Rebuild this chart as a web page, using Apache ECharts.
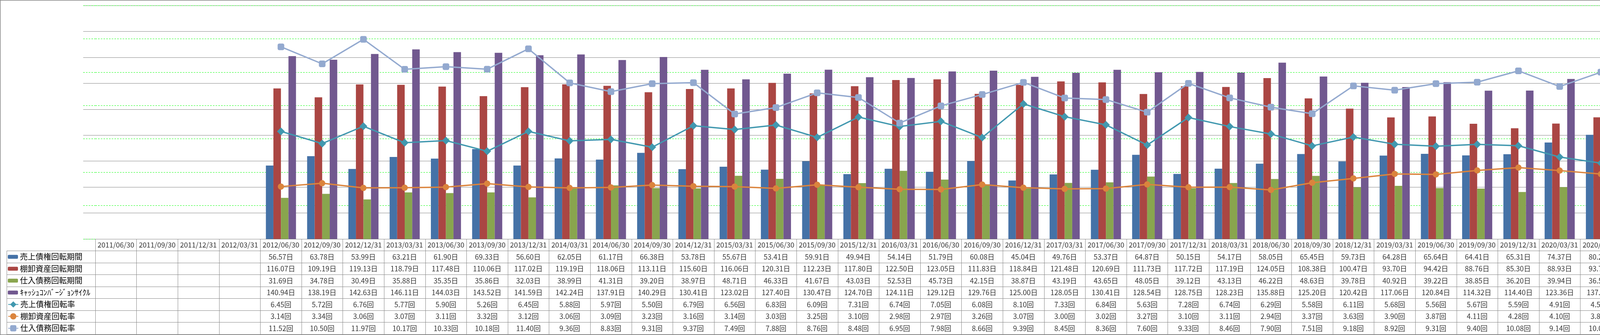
<!DOCTYPE html>
<html><head><meta charset="utf-8">
<script src="https://cdn.jsdelivr.net/npm/echarts@6/dist/echarts.min.js"></script>
<style>html,body{margin:0;padding:0;background:#fff;overflow:hidden}#c{width:4701px;height:858px}</style>
</head><body><div id="c"></div>
<script>
const categories = ['2011/06/30','2011/09/30','2011/12/31','2012/03/31','2012/06/30','2012/09/30','2012/12/31','2013/03/31','2013/06/30','2013/09/30','2013/12/31','2014/03/31','2014/06/30','2014/09/30','2014/12/31','2015/03/31','2015/06/30','2015/09/30','2015/12/31','2016/03/31','2016/06/30','2016/09/30','2016/12/31','2017/03/31','2017/06/30','2017/09/30','2017/12/31','2018/03/31','2018/06/30','2018/09/30','2018/12/31','2019/03/31','2019/06/30','2019/09/30','2019/12/31','2020/03/31','2020/06/30','2020/09/30','2020/12/31','2021/03/31'];
const salesPeriod = [null,null,null,null,56.57,63.78,53.99,63.21,61.90,69.33,56.60,62.05,61.17,66.38,53.78,55.67,53.41,59.91,49.94,54.14,51.79,60.08,45.04,49.76,53.37,64.87,50.15,54.17,58.05,65.45,59.73,64.28,65.64,64.41,65.31,74.37,80.29,82.60,85.39,99.84];
const inventoryPeriod = [null,null,null,null,116.07,109.19,119.13,118.79,117.48,110.06,117.02,119.19,118.06,113.11,115.60,116.06,120.31,112.23,117.80,122.50,123.05,111.83,118.84,121.48,120.69,111.73,117.72,117.19,124.05,108.38,100.47,93.70,94.42,88.76,85.30,88.93,93.74,93.91,102.34,106.15];
const payablePeriod = [null,null,null,null,31.69,34.78,30.49,35.88,35.35,35.86,32.03,38.99,41.31,39.20,38.97,48.71,46.33,41.67,43.03,52.53,45.73,42.15,38.87,43.19,43.65,48.05,39.12,43.13,46.22,48.63,39.78,40.92,39.22,38.85,36.20,39.94,36.51,36.86,39.96,42.48];
const cashCycle = [null,null,null,null,140.94,138.19,142.63,146.11,144.03,143.52,141.59,142.24,137.91,140.29,130.41,123.02,127.40,130.47,124.70,124.11,129.12,129.76,125.00,128.05,130.41,128.54,128.75,128.23,135.88,125.20,120.42,117.06,120.84,114.32,114.40,123.36,137.52,139.65,147.77,163.51];
const salesTurnover = [null,null,null,null,6.45,5.72,6.76,5.77,5.90,5.26,6.45,5.88,5.97,5.50,6.79,6.56,6.83,6.09,7.31,6.74,7.05,6.08,8.10,7.33,6.84,5.63,7.28,6.74,6.29,5.58,6.11,5.68,5.56,5.67,5.59,4.91,4.55,4.42,4.27,3.66];
const inventoryTurnover = [null,null,null,null,3.14,3.34,3.06,3.07,3.11,3.32,3.12,3.06,3.09,3.23,3.16,3.14,3.03,3.25,3.10,2.98,2.97,3.26,3.07,3.00,3.02,3.27,3.10,3.11,2.94,3.37,3.63,3.90,3.87,4.11,4.28,4.10,3.89,3.89,3.57,3.44];
const payableTurnover = [null,null,null,null,11.52,10.50,11.97,10.17,10.33,10.18,11.40,9.36,8.83,9.31,9.37,7.49,7.88,8.76,8.48,6.95,7.98,8.66,9.39,8.45,8.36,7.60,9.33,8.46,7.90,7.51,9.18,8.92,9.31,9.40,10.08,9.14,10.00,9.90,9.13,8.59];
const seriesNames = ['売上債権回転期間','棚卸資産回転期間','仕入債務回転期間','ｷｬｯｼｭｺﾝﾊﾞｰｼﾞｮﾝｻｲｸﾙ','売上債権回転率','棚卸資産回転率','仕入債務回転率'];
const seriesUnits = ['日','日','日','日','回','回','回'];
const dayTicks = {min:0, max:180, interval:20};
const rateTicks = {min:0, max:14, interval:2};

const rows = [salesPeriod, inventoryPeriod, payablePeriod, cashCycle, salesTurnover, inventoryTurnover, payableTurnover];
const FONT = '"Noto Sans CJK JP", "Noto Sans", sans-serif';
const GRAY = '#868686';
const GREEN = '#00ff00';
const barColors = ['#4572A7','#AA4643','#89A54E','#71588F'];
const lineColors = ['#4198AF','#DB843D','#93A9CF'];
const lineSymbols = ['diamond','circle','roundRect'];
const lineSymbolSizes = [20,16,17];

const tableRowNames = ['hdr'].concat(seriesNames);
const cellData = [];
categories.forEach((c,i)=>cellData.push({name:c, value:[i,0]}));
rows.forEach((arr,r)=>{
  arr.forEach((v,i)=>{ if(v!==null) cellData.push({name:v.toFixed(2)+seriesUnits[r], value:[i,r+1]}); });
});

const series = [];
for(let k=0;k<4;k++){
  series.push({name:seriesNames[k], type:'bar', xAxisIndex:0, yAxisIndex:0, data:rows[k],
    itemStyle:{color:barColors[k]}, barGap:'0%', barCategoryGap:'27%'});
}
for(let k=0;k<3;k++){
  series.push({name:seriesNames[4+k], type:'line', xAxisIndex:0, yAxisIndex:1, data:rows[4+k],
    symbol:lineSymbols[k], symbolSize:lineSymbolSizes[k], showSymbol:true,
    itemStyle:{color:lineColors[k]}, lineStyle:{color:lineColors[k], width:3.5}, z:5});
}
series.push({type:'scatter', xAxisIndex:2, yAxisIndex:4, data:cellData, symbolSize:1,
  itemStyle:{color:'rgba(0,0,0,0)'}, silent:true,
  label:{show:true, position:'inside', formatter:'{b}', color:'#000', fontSize:18, fontFamily:FONT}});

const legendText = {color:'#000', fontSize:20, fontFamily:FONT, lineHeight:20};
function mkLegend(left, top, names, h){
  return {orient:'vertical', left:left, top:top, padding:0, itemGap:10.5, itemWidth:26, itemHeight:h,
    data:names, textStyle:legendText, selectedMode:false};
}

const option = {
  animation:false,
  backgroundColor:'#fff',
  graphic:[{type:'rect', shape:{x:0.75,y:0.75,width:4699.5,height:856.5}, style:{fill:null, stroke:GRAY, lineWidth:1.5}, silent:true}],
  legend:[
    mkLegend(20, 647.75, seriesNames.slice(0,4), 10),
    mkLegend(20, 769.75, seriesNames.slice(4), 20),
    mkLegend(4473, 647.75, seriesNames.slice(0,4), 10),
    mkLegend(4473, 769.75, seriesNames.slice(4), 20)
  ],
  grid:[
    {left:244, right:233, top:14, height:598, outerBoundsMode:'none'},
    {left:213, width:31, top:14, height:598, outerBoundsMode:'none'},
    {left:244, right:233, top:612, height:244, outerBoundsMode:'none'},
    {left:17, width:227, top:642.5, height:213.5, outerBoundsMode:'none'}
  ],
  xAxis:[
    {type:'category', gridIndex:0, data:categories, boundaryGap:true, axisLine:{show:false}, axisTick:{show:false}, axisLabel:{show:false}, splitLine:{show:false}},
    {type:'category', gridIndex:1, data:[''], axisLine:{show:false}, axisTick:{show:false}, axisLabel:{show:false}, splitLine:{show:false}},
    {type:'category', gridIndex:2, data:categories, boundaryGap:true, axisLine:{show:false}, axisTick:{show:false}, axisLabel:{show:false},
      splitLine:{show:true, lineStyle:{color:GRAY, width:1}}},
    {type:'value', gridIndex:3, min:0, max:1, show:false}
  ],
  yAxis:[
    {type:'value', gridIndex:0, position:'right', min:dayTicks.min, max:dayTicks.max, interval:dayTicks.interval,
      axisLine:{show:true, lineStyle:{color:GRAY, width:1}}, axisTick:{show:false},
      axisLabel:{formatter:v=>v.toFixed(2)+'日', color:'#000', fontSize:18, fontFamily:FONT, margin:19},
      splitLine:{show:true, lineStyle:{color:GRAY, width:1}}},
    {type:'value', gridIndex:0, position:'right', offset:97, min:rateTicks.min, max:rateTicks.max, interval:rateTicks.interval,
      axisLine:{show:true, lineStyle:{color:GREEN, width:1, type:[4,3]}}, axisTick:{show:true, inside:true, length:4, lineStyle:{color:GREEN}},
      axisLabel:{formatter:v=>v.toFixed(2)+'回', color:'#000', fontSize:18, fontFamily:FONT, margin:19},
      splitLine:{show:true, lineStyle:{color:GREEN, width:1, type:[4,3]}}},
    {type:'value', gridIndex:1, min:dayTicks.min, max:dayTicks.max, interval:dayTicks.interval,
      axisLine:{show:false}, axisTick:{show:false}, axisLabel:{show:false},
      splitLine:{show:true, lineStyle:{color:GRAY, width:1}}},
    {type:'value', gridIndex:1, min:rateTicks.min, max:rateTicks.max, interval:rateTicks.interval,
      axisLine:{show:false}, axisTick:{show:false}, axisLabel:{show:false},
      splitLine:{show:true, lineStyle:{color:GREEN, width:1, type:[4,3]}}},
    {type:'category', gridIndex:2, data:tableRowNames, inverse:true, boundaryGap:true,
      axisLine:{show:false}, axisTick:{show:false}, axisLabel:{show:false},
      splitLine:{show:true, lineStyle:{color:GRAY, width:1}}},
    {type:'category', gridIndex:3, data:seriesNames, inverse:true, boundaryGap:true,
      axisLine:{show:true, lineStyle:{color:GRAY, width:1}}, axisTick:{show:false}, axisLabel:{show:false},
      splitLine:{show:true, lineStyle:{color:GRAY, width:1}}}
  ],
  series:series
};
const chart = echarts.init(document.getElementById('c'), null, {renderer:'canvas'});
chart.setOption(option);
</script></body></html>
